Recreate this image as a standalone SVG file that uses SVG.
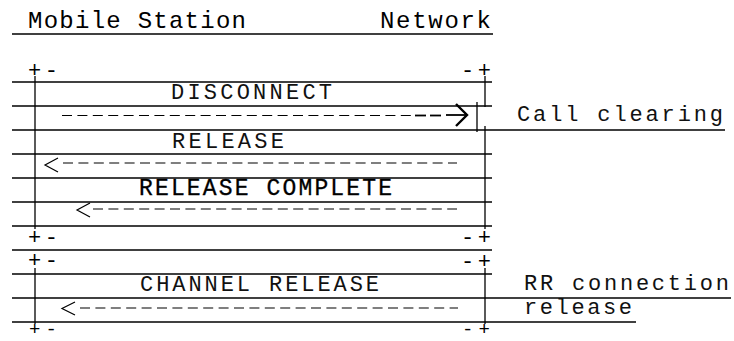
<svg xmlns="http://www.w3.org/2000/svg" width="734" height="341" viewBox="0 0 734 341">
<style>
  text { font-family: "Liberation Mono", "Courier New", monospace; fill: #000; }
  .hdr { font-size: 24px; }
  .lbl { font-size: 22px; fill: #111; }
  .big { font-size: 23px; stroke: #000; stroke-width: 0.3; }
  .side { font-size: 22px; fill: #111; }
  .corner { font-size: 22px; }
  .cornerb { font-size: 19px; }
  .rule { stroke: #000; stroke-width: 1.3; fill: none; }
  .life { stroke: #000; stroke-width: 1.3; fill: none; }
  .dash { stroke: #000; stroke-width: 1.2; stroke-dasharray: 10 5.4; fill: none; }
  .dashd { stroke: #000; stroke-width: 1.8; fill: none; }
  .head { stroke: #000; stroke-width: 1.2; fill: none; }
  .headb { stroke: #000; stroke-width: 2.4; fill: none; stroke-linejoin: miter; }
</style>
<rect x="0" y="0" width="734" height="341" fill="#fff"/>

<g id="header">
  <text class="hdr" x="28" y="28" textLength="218" lengthAdjust="spacing">Mobile Station</text>
  <text class="hdr" x="380" y="28" textLength="111" lengthAdjust="spacing">Network</text>
  <line class="rule" x1="12" y1="34" x2="493" y2="34"/>
</g>

<g id="block-call-clearing">
  <text class="corner" x="28" y="77" textLength="30" lengthAdjust="spacing">+-</text>
  <text class="corner" x="461" y="77" textLength="30" lengthAdjust="spacing">-+</text>
  <text class="corner" x="28" y="244" textLength="30" lengthAdjust="spacing">+-</text>
  <text class="corner" x="461" y="244" textLength="30" lengthAdjust="spacing">-+</text>
  <line class="life" x1="35" y1="76" x2="35" y2="229"/>
  <line class="life" x1="485" y1="76" x2="485" y2="107"/>
  <line class="life" x1="477" y1="102" x2="477" y2="132"/>
  <line class="life" x1="485" y1="126" x2="485" y2="229"/>
  <line class="rule" x1="12" y1="82" x2="492" y2="82"/>
  <line class="rule" x1="12" y1="106" x2="492" y2="106"/>
  <line class="rule" x1="12" y1="130" x2="725" y2="130"/>
  <line class="rule" x1="12" y1="154" x2="492" y2="154"/>
  <line class="rule" x1="12" y1="178" x2="492" y2="178"/>
  <line class="rule" x1="12" y1="202" x2="492" y2="202"/>
  <line class="rule" x1="12" y1="226" x2="492" y2="226"/>
  <text class="side" x="517" y="121" textLength="206" lengthAdjust="spacing">Call clearing</text>
</g>

<g id="msg-disconnect">
  <text class="lbl" x="171" y="99" textLength="161" lengthAdjust="spacing">DISCONNECT</text>
</g>
<g id="msg-release">
  <text class="lbl" x="172" y="148" textLength="112" lengthAdjust="spacing">RELEASE</text>
</g>
<g id="msg-release-complete">
  <text class="big" x="139" y="195" textLength="253" lengthAdjust="spacing">RELEASE COMPLETE</text>
</g>

<g id="block-rr-release">
  <line class="rule" x1="12" y1="250" x2="492" y2="250"/>
  <text class="corner" x="28" y="267" textLength="30" lengthAdjust="spacing">+-</text>
  <text class="corner" x="461" y="268" textLength="30" lengthAdjust="spacing">-+</text>
  <text class="cornerb" x="29" y="335" textLength="28" lengthAdjust="spacing">+-</text>
  <text class="cornerb" x="462" y="335" textLength="28" lengthAdjust="spacing">-+</text>
  <line class="life" x1="35" y1="268" x2="35" y2="324"/>
  <line class="life" x1="485" y1="268" x2="485" y2="324"/>
  <line class="rule" x1="12" y1="274" x2="492" y2="274"/>
  <line class="rule" x1="12" y1="298" x2="731" y2="298"/>
  <line class="rule" x1="12" y1="322" x2="636" y2="322"/>
  <text class="side" x="524" y="290" textLength="205" lengthAdjust="spacing">RR connection</text>
  <text class="side" x="524" y="314" textLength="108" lengthAdjust="spacing">release</text>
</g>

<g id="msg-channel-release">
  <text class="lbl" x="140" y="291" textLength="239" lengthAdjust="spacing">CHANNEL RELEASE</text>
</g>

<g id="connectors">
  <!-- DISCONNECT: MS -> Network -->
  <line class="dash" x1="62" y1="115.5" x2="411" y2="115.5"/>
  <line class="dashd" x1="415" y1="115.5" x2="426" y2="115.5"/>
  <line class="dashd" x1="430" y1="115.5" x2="441" y2="115.5"/>
  <line class="dashd" x1="446" y1="115" x2="466" y2="115"/>
  <polyline class="headb" points="456,104 467,115 456,126"/>
  <!-- RELEASE: Network -> MS -->
  <polyline class="head" points="58,158 45,165 58,172"/>
  <line class="dash" x1="63" y1="163" x2="457" y2="163"/>
  <!-- RELEASE COMPLETE: Network -> MS -->
  <polyline class="head" points="90,203 77,210 90,217"/>
  <line class="dash" x1="93" y1="209" x2="457" y2="209"/>
  <!-- CHANNEL RELEASE: Network -> MS -->
  <polyline class="head" points="75,302 62,308.5 75,315"/>
  <line class="dash" x1="80" y1="308" x2="458" y2="308"/>
</g>
</svg>
